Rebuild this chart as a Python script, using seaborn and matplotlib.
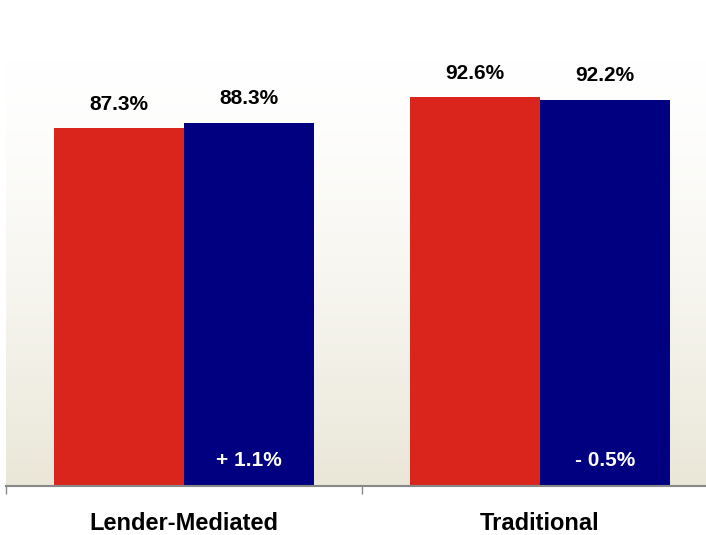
import matplotlib
matplotlib.use("Agg")
import matplotlib.pyplot as plt
import matplotlib.transforms as mtransforms
import seaborn as sns
import pandas as pd
import numpy as np

categories = ["Lender-Mediated", "Traditional"]
series = ["Prior", "Current"]
prior_values = [87.3, 92.6]
current_values = [88.3, 92.2]
change_labels = ["+ 1.1%", "- 0.5%"]

df = pd.DataFrame({
    "category": categories * 2,
    "series": [series[0]] * 2 + [series[1]] * 2,
    "value": prior_values + current_values,
})

sns.set_theme(style="white")
plt.rcParams["font.family"] = ["Liberation Sans", "DejaVu Sans"]

fig = plt.figure(figsize=(7.06, 5.35), dpi=100)
ax = fig.add_axes([6 / 706, 49 / 535, 712 / 706, 426 / 535])

# background gradient, white on top to beige at the bottom
grad = np.linspace(0, 1, 256).reshape(-1, 1)
top = np.array([1.0, 1.0, 1.0])
bottom = np.array([234, 231, 216]) / 255
img = top + (bottom - top) * grad[:, :, None] ** 1.4
ax.imshow(img, extent=[0, 1, 0, 1], transform=ax.transAxes,
          aspect="auto", zorder=0)

sns.barplot(data=df, x="category", y="value", hue="series",
            order=categories, hue_order=series,
            palette=["#DA251D", "#000080"], width=0.728,
            saturation=1, legend=False, linewidth=0, edgecolor="none",
            ax=ax, zorder=2)

ax.set_xlim(-0.5, 1.5)
ax.set_ylim(26.7, 98.9)

for cont in ax.containers:
    for bar in cont:
        h = bar.get_height()
        ax.annotate(f"{h:.1f}%", (bar.get_x() + bar.get_width() / 2, h),
                    xytext=(0, 17), textcoords="offset points",
                    ha="center", va="center", fontsize=15,
                    fontweight="bold", color="black")

trans = mtransforms.blended_transform_factory(ax.transData, ax.transAxes)
for bar, lab in zip(ax.containers[1], change_labels):
    ax.text(bar.get_x() + bar.get_width() / 2, 0.061, lab, transform=trans,
            ha="center", va="center", fontsize=15, fontweight="bold",
            color="white", zorder=3)

ax.set_xlabel("")
ax.set_ylabel("")
ax.set_yticks([])
ax.set_xticks([0, 1])
ax.set_xticklabels(categories, fontsize=17, fontweight="bold")
ax.set_xticks([-0.5, 0.5, 1.5], minor=True)
ax.tick_params(axis="x", which="major", length=0, pad=19, colors="black")
ax.tick_params(axis="x", which="minor", bottom=True, length=6,
               width=1, color="#888888")

for s in ["top", "right", "left"]:
    ax.spines[s].set_visible(False)
ax.spines["bottom"].set_color("#888888")
ax.spines["bottom"].set_linewidth(1.5)
ax.spines["bottom"].set_zorder(4)

fig.savefig("out.png", dpi=100)
